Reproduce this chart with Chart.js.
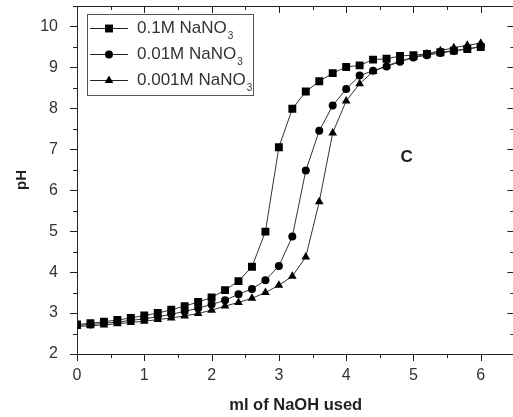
<!DOCTYPE html>
<html>
<head>
<meta charset="utf-8">
<script src="https://cdn.jsdelivr.net/npm/chart.js@4/dist/chart.umd.min.js"></script>
<style>
  html, body { margin: 0; padding: 0; background: #fff; overflow: hidden; }
  #wrap { width: 520px; height: 417px; }
</style>
</head>
<body>
<div id="wrap"><canvas id="phChart" width="520" height="417"></canvas></div>
<script>
// ml of NaOH added
const naohMl = [0, 0.2, 0.4, 0.6, 0.8, 1.0, 1.2, 1.4, 1.6, 1.8, 2.0, 2.2, 2.4, 2.6, 2.8, 3.0,
    3.2, 3.4, 3.6, 3.8, 4.0, 4.2, 4.4, 4.6, 4.8, 5.0, 5.2, 5.4, 5.6, 5.8, 6.0];

const ph01M = [2.72, 2.75, 2.79, 2.83, 2.88, 2.94, 3.00, 3.08, 3.17, 3.27, 3.38, 3.56, 3.78, 4.13, 4.99, 7.05,
    7.99, 8.41, 8.66, 8.86, 9.01, 9.05, 9.19, 9.21, 9.28, 9.30, 9.33, 9.37, 9.41, 9.45, 9.50];
const ph001M = [2.70, 2.72, 2.75, 2.78, 2.82, 2.86, 2.91, 2.97, 3.04, 3.12, 3.21, 3.31, 3.46, 3.59, 3.80, 4.15,
    4.87, 6.48, 7.45, 8.07, 8.47, 8.80, 8.92, 9.02, 9.14, 9.24, 9.30, 9.35, 9.40, 9.45, 9.51];
const ph0001M = [2.67, 2.69, 2.71, 2.74, 2.77, 2.80, 2.84, 2.88, 2.93, 2.99, 3.07, 3.17, 3.26, 3.36, 3.50, 3.68,
    3.90, 4.37, 5.72, 7.40, 8.18, 8.60, 8.90, 9.04, 9.15, 9.25, 9.33, 9.41, 9.48, 9.54, 9.59];

const seriesNames = ["0.1M NaNO", "0.01M NaNO", "0.001M NaNO"];
const markerStyles = ["rect", "circle", "triangle"];
const markerSizes = [5.6, 4, 5];
const allSeries = [ph01M, ph001M, ph0001M];

const xTicks = [0, 1, 2, 3, 4, 5, 6];
const yTicks = [2, 3, 4, 5, 6, 7, 8, 9, 10];

const FONT = "'Liberation Sans', Arial, sans-serif";

// Origin-style frame with ticks on all four sides
const framePlugin = {
    id: "frame",
    afterDraw(chart) {
        const { ctx, chartArea: a, scales } = chart;
        const x = scales.x, y = scales.y;
        ctx.save();
        ctx.strokeStyle = "#222";
        ctx.lineWidth = 1;
        ctx.strokeRect(a.left + 0.5, a.top + 0.5, a.right - a.left, a.bottom - a.top);
        ctx.beginPath();
        for (let v = 0; v <= 6.5; v += 0.5) {
            const px = Math.round(x.getPixelForValue(v)) + 0.5;
            const len = v % 1 === 0 ? 7 : 4;
            ctx.moveTo(px, a.bottom);
            ctx.lineTo(px, a.bottom + len);
            ctx.moveTo(px, a.top);
            ctx.lineTo(px, a.top + len);
        }
        for (let v = 2; v <= 10.5; v += 0.5) {
            const py = Math.round(y.getPixelForValue(v)) + 0.5;
            const len = v % 1 === 0 ? 7 : 4;
            ctx.moveTo(a.left, py);
            ctx.lineTo(a.left - len, py);
            ctx.moveTo(a.right, py);
            ctx.lineTo(a.right - len, py);
        }
        ctx.stroke();

        // panel letter
        ctx.fillStyle = "#222";
        ctx.font = "bold 17px " + FONT;
        ctx.textAlign = "center";
        ctx.textBaseline = "middle";
        ctx.fillText("C", x.getPixelForValue(4.9), y.getPixelForValue(6.8));
        ctx.restore();
    },
};

// legend box with line + marker and subscript 3
const legendPlugin = {
    id: "originLegend",
    afterDraw(chart) {
        const { ctx } = chart;
        const bx = 87, by = 14, bw = 166, bh = 81;
        ctx.save();
        ctx.strokeStyle = "#555";
        ctx.lineWidth = 1;
        ctx.strokeRect(bx + 0.5, by + 0.5, bw, bh);
        const rows = [28, 54, 80];
        chart.data.datasets.forEach((ds, i) => {
            const ry = rows[i] + 0.5;
            ctx.strokeStyle = "#222";
            ctx.beginPath();
            ctx.moveTo(90, ry);
            ctx.lineTo(128, ry);
            ctx.stroke();
            ctx.fillStyle = "#000";
            Chart.helpers.drawPoint(ctx, {
                pointStyle: ds.pointStyle,
                radius: ds.pointRadius,
                borderWidth: 0,
                rotation: 0,
            }, 109, ry);
            ctx.fillStyle = "#333";
            ctx.textAlign = "left";
            ctx.textBaseline = "middle";
            ctx.font = "17px " + FONT;
            ctx.fillText(ds.label, 137, ry);
            const w = ctx.measureText(ds.label).width;
            ctx.font = "10px " + FONT;
            ctx.fillText("3", 137 + w + 1, ry + 8);
        });
        ctx.restore();
    },
};

const datasets = allSeries.map((vals, i) => ({
    label: seriesNames[i],
    data: naohMl.map((ml, k) => ({ x: ml, y: vals[k] })),
    showLine: true,
    borderColor: "#333",
    borderWidth: 1,
    backgroundColor: "#000",
    pointBackgroundColor: "#000",
    pointBorderColor: "#000",
    pointBorderWidth: 0,
    pointStyle: markerStyles[i],
    pointRadius: markerSizes[i],
    tension: 0,
}));

new Chart(document.getElementById("phChart"), {
    type: "scatter",
    data: { datasets },
    options: {
        responsive: false,
        animation: false,
        layout: { padding: { top: 6, right: 1, left: 0, bottom: 0 } },
        plugins: {
            legend: { display: false },
            tooltip: { enabled: false },
        },
        scales: {
            x: {
                type: "linear",
                min: 0,
                max: 6.5,
                afterFit: (s) => { s.height = 63; s.paddingLeft = 0; s.paddingRight = 0; },
                afterBuildTicks: (s) => { s.ticks = xTicks.map((v) => ({ value: v })); },
                grid: { display: false },
                border: { display: false },
                ticks: { padding: 4, color: "#333", font: { family: FONT, size: 16 } },
                title: {
                    display: true,
                    text: "ml of NaOH used",
                    color: "#222",
                    font: { family: FONT, size: 16.5, weight: "bold" },
                    padding: { top: 4, bottom: 2 },
                },
            },
            y: {
                type: "linear",
                min: 2,
                max: 10.5,
                afterFit: (s) => { s.width = 77; s.paddingTop = 0; s.paddingBottom = 0; },
                afterBuildTicks: (s) => { s.ticks = yTicks.map((v) => ({ value: v })); },
                grid: { display: false },
                border: { display: false },
                ticks: { padding: 11, color: "#333", font: { family: FONT, size: 16 } },
                title: {
                    display: true,
                    text: "pH",
                    color: "#222",
                    font: { family: FONT, size: 15, weight: "bold" },
                    padding: { top: 13, bottom: 4 },
                },
            },
        },
    },
    plugins: [framePlugin, legendPlugin],
});
</script>
</body>
</html>
